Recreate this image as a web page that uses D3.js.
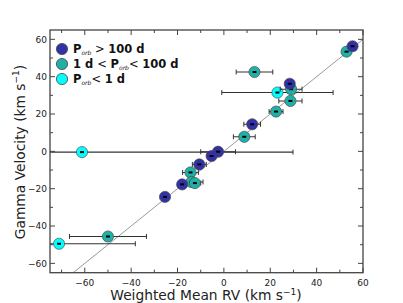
<!DOCTYPE html>
<html><head><meta charset="utf-8">
<script src="https://cdn.jsdelivr.net/npm/d3@7"></script>
<style>body{margin:0;background:#fff}svg{display:block}text{font-family:"DejaVu Sans",sans-serif}</style>
</head><body><svg id="c" width="403" height="303"></svg>
<script>
// data: [weighted mean RV, gamma velocity, x error]
const longPeriod = [[55.5,56.3,0.8],[28.4,36.2,0.8],[12.2,14.5,3.6],[-2.5,-0.2,7.5],[-5.3,-2.5,1.5],[-10.6,-7.0,3],[-18.0,-17.7,1.5],[-25.4,-24.4,1]];
const midPeriod = [[52.9,53.4,0.8],[13.2,42.5,7.9],[29.0,33.3,4.7],[28.7,27.0,5],[22.5,21.3,3],[8.8,7.8,4.7],[-14.4,-11.3,3.4],[-14.0,-16.4,5],[-12.5,-17.0,2.5],[-50.0,-45.6,16.6]];
const shortPeriod = [[23.1,31.5,24],[-61.2,-0.4,91],[-71.1,-49.5,32.9]];
const xTicks = [-60,-40,-20,0,20,40,60];
const yTicks = [-60,-40,-20,0,20,40,60];
const colors = {long:"#3232a6", mid:"#20b0a8", short:"#00ffff"};

const svg = d3.select("#c");
const L=50,R=363,T=30,B=272.7;
const x = d3.scaleLinear().domain([-75,60]).range([L,R]);
const y = d3.scaleLinear().domain([-65,65]).range([B,T]);
const fc="#444";

svg.append("clipPath").attr("id","clip").append("rect").attr("x",L).attr("y",T).attr("width",R-L).attr("height",B-T);
const g = svg.append("g").attr("clip-path","url(#clip)");

// one-to-one line
g.append("line").attr("x1",x(-75)).attr("y1",y(-75)).attr("x2",x(70)).attr("y2",y(70))
 .attr("stroke","#999").attr("stroke-width",1);

function drawSet(data,color){
  data.forEach(d=>{
    const cx=x(d[0]), cy=y(d[1]), x0=x(d[0]-d[2]), x1=x(d[0]+d[2]);
    g.append("line").attr("x1",x0).attr("x2",x1).attr("y1",cy).attr("y2",cy).attr("stroke","#333").attr("stroke-width",1.1);
    [x0,x1].forEach(xx=>g.append("line").attr("x1",xx).attr("x2",xx).attr("y1",cy-2.5).attr("y2",cy+2.5).attr("stroke","#333").attr("stroke-width",1));
  });
  data.forEach(d=>{
    const cx=x(d[0]), cy=y(d[1]);
    g.append("circle").attr("cx",cx).attr("cy",cy).attr("r",5.6).attr("fill",color).attr("stroke","#444").attr("stroke-width",0.8).attr("stroke-opacity",0.8);
    g.append("rect").attr("x",cx-2).attr("y",cy-1).attr("width",4).attr("height",2).attr("fill","#000");
  });
}
drawSet(shortPeriod,colors.short);
drawSet(midPeriod,colors.mid);
drawSet(longPeriod,colors.long);

// frame
svg.append("rect").attr("x",L).attr("y",T).attr("width",R-L).attr("height",B-T).attr("fill","none").attr("stroke",fc).attr("stroke-width",1.3);

// ticks
const ax=svg.append("g").attr("stroke",fc).attr("stroke-width",1);
d3.range(-70,61,10).forEach(v=>{
  const len = (v%20===0)?5:3;
  ax.append("line").attr("x1",x(v)).attr("x2",x(v)).attr("y1",B).attr("y2",B-len);
  ax.append("line").attr("x1",x(v)).attr("x2",x(v)).attr("y1",T).attr("y2",T+len);
});
d3.range(-60,61,10).forEach(v=>{
  const len = (v%20===0)?5:3;
  ax.append("line").attr("y1",y(v)).attr("y2",y(v)).attr("x1",L).attr("x2",L+len);
  ax.append("line").attr("y1",y(v)).attr("y2",y(v)).attr("x1",R).attr("x2",R-len);
});
const fmt = v => (v<0?"\u2212":"")+Math.abs(v);
xTicks.forEach(v=>svg.append("text").attr("x",x(v)).attr("y",B+13).attr("text-anchor","middle").attr("font-size",9).attr("fill","#222").text(fmt(v)));
yTicks.forEach(v=>svg.append("text").attr("x",L-3).attr("y",y(v)+3.3).attr("text-anchor","end").attr("font-size",9).attr("fill","#222").text(fmt(v)));

// axis labels
const xl=svg.append("text").attr("x",206).attr("y",300).attr("text-anchor","middle").attr("font-size",13.8).attr("fill","#222");
xl.append("tspan").text("Weighted Mean RV (km s");
xl.append("tspan").attr("dy",-5.5).attr("font-size",9).text("\u22121");
xl.append("tspan").attr("dy",5.5).text(")");
const yl=svg.append("text").attr("transform","translate(24.5,152) rotate(-90)").attr("text-anchor","middle").attr("font-size",13.8).attr("fill","#222");
yl.append("tspan").text("Gamma Velocity (km s");
yl.append("tspan").attr("dy",-5.5).attr("font-size",9).text("\u22121");
yl.append("tspan").attr("dy",5.5).text(")");

// legend
const leg=[{c:colors.long,y:49},{c:colors.mid,y:64},{c:colors.short,y:79}];
leg.forEach(l=>svg.append("circle").attr("cx",62).attr("cy",l.y).attr("r",5.6).attr("fill",l.c).attr("stroke","#444").attr("stroke-width",0.8));
function P(t){t.append("tspan").attr("font-weight","bold").text("P");t.append("tspan").attr("font-size",6).attr("font-style","italic").attr("dy",2).text("orb");}
function lt(yv){return svg.append("text").attr("x",73).attr("y",yv+4).attr("font-size",11.5).attr("fill","#111");}
let t1=lt(49); P(t1); t1.append("tspan").attr("dy",-2).text(" > "); t1.append("tspan").attr("font-weight","bold").text("100 d");
let t2=lt(64); t2.append("tspan").attr("font-weight","bold").text("1 d "); t2.append("tspan").text(" < "); P(t2); t2.append("tspan").attr("dy",-2).text("< "); t2.append("tspan").attr("font-weight","bold").text("100 d");
let t3=lt(79); P(t3); t3.append("tspan").attr("dy",-2).text("< "); t3.append("tspan").attr("font-weight","bold").text("1 d");
</script></body></html>
